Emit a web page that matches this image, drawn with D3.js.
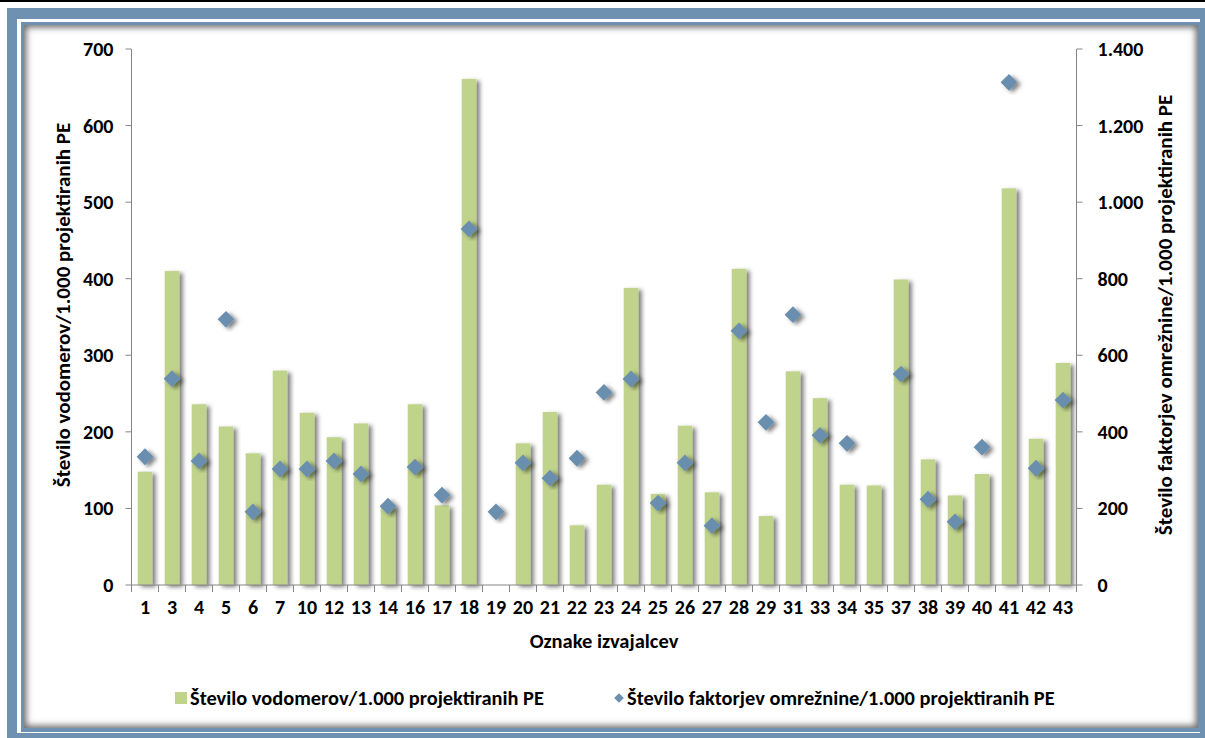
<!DOCTYPE html>
<html>
<head>
<meta charset="utf-8">
<script src="https://cdnjs.cloudflare.com/ajax/libs/d3/7.8.5/d3.min.js"></script>
<style>
  body { margin: 0; background: #fff; }
  svg text { font-family: Carlito, Calibri, Lato, "Open Sans", sans-serif; font-weight: bold; fill: #000; }
</style>
</head>
<body>
<div id="chart"></div>
<script>
// podatki
const izvajalci = ["1","3","4","5","6","7","10","12","13","14","16","17","18","19","20","21","22","23","24","25","26","27","28","29","31","33","34","35","37","38","39","40","41","42","43"]
const vodomeri = [148,410,236,207,172,280,225,193,211,101,236,104,661,0,185,226,78,131,388,119,208,121,413,90,279,244,131,130,399,164,117,145,518,191,290]
const faktorji = [335,539,324,694,191,303,303,324,290,206,308,235,930,191,319,279,331,503,538,214,319,155,664,425,706,391,370,null,551,224,165,360,1313,305,483]
const ticksLevo = [0,100,200,300,400,500,600,700]
const ticksDesno = [0,200,400,600,800,1000,1200,1400]
const imeLevo = "Število vodomerov/1.000 projektiranih PE"
const imeDesno = "Število faktorjev omrežnine/1.000 projektiranih PE"
const imeX = "Oznake izvajalcev"

const W = 1205, H = 738
const barva = "#c0d38b", modra = "#6b8fae", okvir = "#6f91b1"

const svg = d3.select("#chart").append("svg")
  .attr("width", W).attr("height", H)

const defs = svg.append("defs")
const sh = defs.append("filter").attr("id", "senca")
  .attr("x", "-50%").attr("y", "-20%").attr("width", "200%").attr("height", "140%")
sh.append("feDropShadow").attr("dx", 3.5).attr("dy", 2).attr("stdDeviation", 2)
  .attr("flood-color", "#000").attr("flood-opacity", 0.5)
const blur = defs.append("filter").attr("id", "blur")
blur.append("feGaussianBlur").attr("stdDeviation", 3)
defs.append("clipPath").attr("id", "panel")
  .append("rect").attr("x", 24).attr("y", 25).attr("width", 1174).attr("height", 703)

// okvir
svg.append("rect").attr("x", 0).attr("y", 0).attr("width", W).attr("height", 2).attr("fill", "#000")
svg.append("rect").attr("x", 7).attr("y", 8).attr("width", W).attr("height", H).attr("fill", okvir)
svg.append("rect").attr("x", 17).attr("y", 19).attr("width", 1183).attr("height", 714).attr("fill", "#fff")
svg.append("rect").attr("x", 21).attr("y", 22).attr("width", 1181).attr("height", 710).attr("fill", okvir)
svg.append("rect").attr("x", 24).attr("y", 25).attr("width", 1174).attr("height", 703).attr("fill", "#fff")
svg.append("g").attr("clip-path", "url(#panel)")
  .append("rect").attr("x", 22).attr("y", 23).attr("width", 1178).attr("height", 707)
  .attr("fill", "none").attr("stroke", "#707070").attr("stroke-width", 9).attr("filter", "url(#blur)")

// skale
const mLeft = 131.5, mRight = 1076.5, mTop = 49, mBottom = 585
const x = d3.scaleBand().domain(izvajalci).range([mLeft, mRight]).paddingInner(0.46).paddingOuter(0.23)
const xb = d3.scaleBand().domain(izvajalci).range([mLeft, mRight])
const y1 = d3.scaleLinear().domain([0, 700]).range([mBottom, mTop])
const y2 = d3.scaleLinear().domain([0, 1400]).range([mBottom, mTop])

// stolpci
svg.append("g").selectAll("rect")
  .data(izvajalci.map((k, i) => ({k, v: vodomeri[i]})).filter(d => d.v > 0))
  .join("rect")
  .attr("x", d => x(d.k))
  .attr("width", x.bandwidth())
  .attr("y", d => y1(d.v))
  .attr("height", d => y1(0) - y1(d.v))
  .attr("fill", barva)
  .attr("filter", "url(#senca)")

// osi
const os = "#868686"
const gx = svg.append("g").attr("transform", `translate(0,${mBottom})`)
gx.append("line").attr("x1", mLeft).attr("x2", mRight).attr("stroke", os)
gx.selectAll("line.t").data(izvajalci.concat(["_end"])).join("line").attr("class", "t")
  .attr("x1", (d, i) => i < izvajalci.length ? xb(d) : mRight)
  .attr("x2", (d, i) => i < izvajalci.length ? xb(d) : mRight)
  .attr("y1", 0).attr("y2", 7).attr("stroke", os)
gx.selectAll("text").data(izvajalci).join("text")
  .attr("x", d => xb(d) + xb.bandwidth() / 2).attr("y", 29)
  .attr("text-anchor", "middle").style("font-size", "20px").text(d => d)

const gl = svg.append("g").attr("transform", `translate(${mLeft},0)`)
gl.append("line").attr("y1", mTop).attr("y2", mBottom).attr("stroke", os)
gl.selectAll("line.t").data(ticksLevo).join("line").attr("class", "t")
  .attr("x1", -6).attr("x2", 0).attr("y1", d => y1(d)).attr("y2", d => y1(d)).attr("stroke", os)
gl.selectAll("text").data(ticksLevo).join("text")
  .attr("x", -18).attr("y", d => y1(d)).attr("dy", "0.35em")
  .attr("text-anchor", "end").style("font-size", "20px").text(d => d)

const fmt = d => d3.format(",")(d).replace(",", ".")
const gr = svg.append("g").attr("transform", `translate(${mRight},0)`)
gr.append("line").attr("y1", mTop).attr("y2", mBottom).attr("stroke", os)
gr.selectAll("line.t").data(ticksDesno).join("line").attr("class", "t")
  .attr("x1", 0).attr("x2", 6).attr("y1", d => y2(d)).attr("y2", d => y2(d)).attr("stroke", os)
gr.selectAll("text").data(ticksDesno).join("text")
  .attr("x", 21).attr("y", d => y2(d)).attr("dy", "0.35em")
  .attr("text-anchor", "start").style("font-size", "20px").text(fmt)

// karo oznake
const karo = d3.symbol().type(d3.symbolDiamond2).size(180)
svg.append("g").selectAll("path")
  .data(izvajalci.map((k, i) => ({k, v: faktorji[i]})).filter(d => d.v != null))
  .join("path")
  .attr("transform", d => `translate(${xb(d.k) + xb.bandwidth() / 2},${y2(d.v)})`)
  .attr("d", karo)
  .attr("fill", modra)
  .attr("filter", "url(#senca)")

// naslovi osi
svg.append("text").attr("x", (mLeft + mRight) / 2).attr("y", 648)
  .attr("text-anchor", "middle").style("font-size", "20.5px").text(imeX)
svg.append("text").attr("transform", "translate(70,305) rotate(-90)")
  .attr("text-anchor", "middle").style("font-size", "21px").text(imeLevo)
svg.append("text").attr("transform", "translate(1172,315) rotate(-90)")
  .attr("text-anchor", "middle").style("font-size", "21px").text(imeDesno)

// legenda
const leg = svg.append("g")
leg.append("rect").attr("x", 175).attr("y", 692).attr("width", 12).attr("height", 12).attr("fill", barva)
leg.append("text").attr("x", 190).attr("y", 705).style("font-size", "20.4px").text(imeLevo)
leg.append("path").attr("transform", "translate(619,698)")
  .attr("d", d3.symbol().type(d3.symbolDiamond2).size(60)).attr("fill", modra)
leg.append("text").attr("x", 627).attr("y", 705).style("font-size", "20.4px").text(imeDesno)
</script>
</body>
</html>
